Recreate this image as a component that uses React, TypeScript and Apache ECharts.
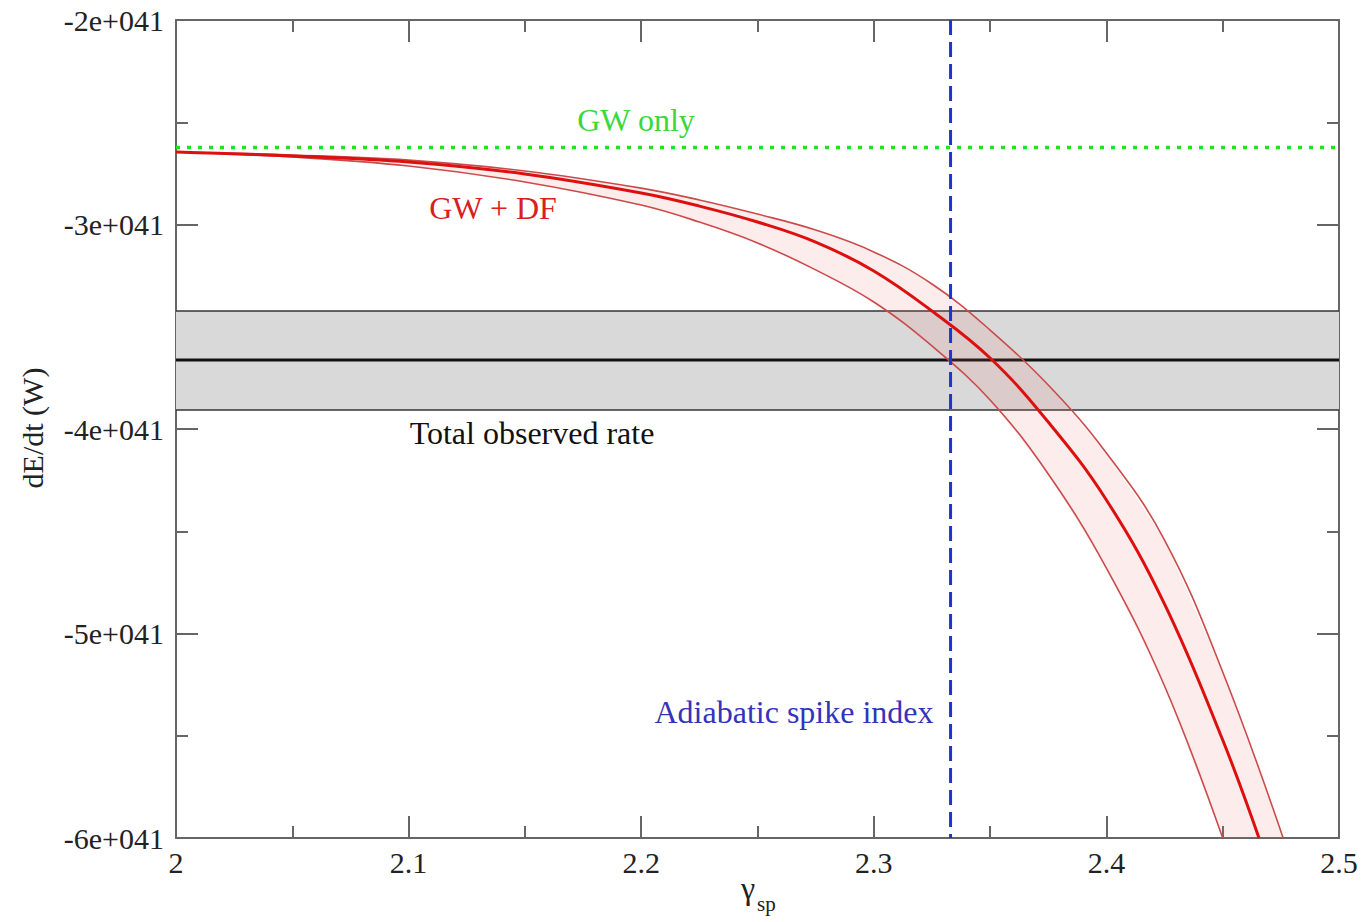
import React, { useEffect, useRef } from "react";
import * as echarts from "echarts";

// Values of dE/dt are in units of 1e41 W
const xTicksMin = 2;
const xTicksMax = 2.5;
const yMin = -6;
const yMax = -2;

const gwOnly = -2.624;
const observedRate = -3.663;
const observedHigh = -3.423;
const observedLow = -3.907;
const adiabaticIndex = 2.333;

const xCentral = [2.0, 2.05, 2.1, 2.15, 2.2, 2.225, 2.25, 2.275, 2.3, 2.325, 2.35, 2.375, 2.4, 2.425, 2.45, 2.4656];
const yCentral = [-2.6455, -2.665, -2.694, -2.753, -2.846, -2.91, -2.988, -3.086, -3.227, -3.423, -3.653, -3.966, -4.347, -4.856, -5.521, -6.0];

const xLower = [2.0, 2.05, 2.1, 2.15, 2.2, 2.225, 2.25, 2.275, 2.3, 2.325, 2.35, 2.375, 2.4, 2.425, 2.45];
const yLower = [-2.6455, -2.67, -2.714, -2.792, -2.905, -2.988, -3.09, -3.222, -3.379, -3.594, -3.858, -4.22, -4.68, -5.257, -6.0];

const xUpper = [2.0, 2.05, 2.1, 2.15, 2.2, 2.225, 2.25, 2.275, 2.3, 2.325, 2.35, 2.375, 2.4, 2.425, 2.45, 2.476];
const yUpper = [-2.6455, -2.66, -2.685, -2.738, -2.822, -2.88, -2.949, -3.027, -3.134, -3.291, -3.516, -3.785, -4.117, -4.543, -5.188, -6.0];

const zip = (xs: number[], ys: number[]) => xs.map((x, i) => [x, ys[i]]);

const SERIF = "'Liberation Serif', 'DejaVu Serif', serif";
const AXIS_COLOR = "#666";

export default function App() {
  const ref = useRef<HTMLDivElement>(null);

  useEffect(() => {
    if (!ref.current) return;
    const chart = echarts.init(ref.current, undefined, { renderer: "svg" });

    const tickStyle = { color: AXIS_COLOR, width: 2 };
    const xAxisBase = {
      type: "value",
      min: xTicksMin,
      max: xTicksMax,
      interval: 0.1,
      splitLine: { show: false },
      axisLine: { show: true, lineStyle: { color: AXIS_COLOR, width: 2 } },
      axisTick: { show: true, inside: true, length: 22, lineStyle: tickStyle },
      minorTick: { show: true, splitNumber: 2, length: 12, lineStyle: tickStyle },
    };
    const yAxisBase = {
      type: "value",
      min: yMin,
      max: yMax,
      interval: 1,
      splitLine: { show: false },
      axisLine: { show: true, lineStyle: { color: AXIS_COLOR, width: 2 } },
      axisTick: { show: true, inside: true, length: 22, lineStyle: tickStyle },
      minorTick: { show: true, splitNumber: 2, length: 12, lineStyle: tickStyle },
    };

    const annotation = (text: string, x: number, y: number, fill: string) => ({
      type: "text",
      x,
      y,
      z: 100,
      style: { text, fontFamily: SERIF, fontSize: 32, fill, align: "center", verticalAlign: "middle" },
    });

    const curve = (name: string, xs: number[], ys: number[], color: string, width: number, z: number) => ({
      name,
      type: "line",
      symbol: "none",
      smooth: 0.4,
      z,
      data: zip(xs, ys),
      lineStyle: { color, width },
    });

    const option: any = {
      animation: false,
      backgroundColor: "#fff",
      grid: { left: 176, top: 20, width: 1163, height: 818, containLabel: false },
      xAxis: [
        {
          ...xAxisBase,
          position: "bottom",
          axisLabel: {
            show: true,
            fontFamily: SERIF,
            fontSize: 30,
            color: "#222",
            margin: 9,
            formatter: (v: number) => String(parseFloat(v.toFixed(2))),
          },
        },
        { ...xAxisBase, position: "top", axisLabel: { show: false } },
      ],
      yAxis: [
        {
          ...yAxisBase,
          position: "left",
          axisLabel: {
            show: true,
            fontFamily: SERIF,
            fontSize: 30,
            color: "#222",
            margin: 12,
            formatter: (v: number) => `${v}e+041`,
          },
        },
        { ...yAxisBase, position: "right", axisLabel: { show: false } },
      ],
      graphic: [
        {
          type: "text",
          x: 32,
          y: 428,
          rotation: Math.PI / 2,
          style: { text: "dE/dt (W)", fontFamily: SERIF, fontSize: 30, fill: "#222", align: "center", verticalAlign: "middle" },
        },
        {
          type: "text",
          x: 748,
          y: 888,
          style: { text: "γ", fontFamily: SERIF, fontSize: 32, fill: "#222", align: "center", verticalAlign: "middle" },
        },
        {
          type: "text",
          x: 757,
          y: 904,
          style: { text: "sp", fontFamily: SERIF, fontSize: 21, fill: "#222", align: "left", verticalAlign: "middle" },
        },
        annotation("GW only", 636, 120, "#3ad83a"),
        annotation("GW + DF", 493, 208, "#d82020"),
        annotation("Total observed rate", 532, 433, "#111"),
        annotation("Adiabatic spike index", 794, 712, "#3333bb"),
      ],
      series: [
        {
          name: "Total observed rate",
          type: "line",
          symbol: "none",
          z: 3,
          data: [[xTicksMin, observedRate], [xTicksMax, observedRate]],
          lineStyle: { color: "#111", width: 3 },
          markArea: {
            silent: true,
            itemStyle: { color: "#d9d9d9" },
            data: [[{ yAxis: observedHigh }, { yAxis: observedLow }]],
          },
        },
        {
          name: "Observed high",
          type: "line",
          symbol: "none",
          z: 3,
          data: [[xTicksMin, observedHigh], [xTicksMax, observedHigh]],
          lineStyle: { color: "#333", width: 1.5 },
        },
        {
          name: "Observed low",
          type: "line",
          symbol: "none",
          z: 3,
          data: [[xTicksMin, observedLow], [xTicksMax, observedLow]],
          lineStyle: { color: "#333", width: 1.5 },
        },
        {
          name: "GW + DF band",
          type: "custom",
          z: 4,
          data: [[xUpper[0], yUpper[0]]],
          encode: { x: 0, y: 1 },
          renderItem: (_params: any, api: any) => {
            const pts: number[][] = [];
            for (let i = 0; i < xUpper.length; i++) pts.push(api.coord([xUpper[i], yUpper[i]]));
            for (let i = xLower.length - 1; i >= 0; i--) pts.push(api.coord([xLower[i], yLower[i]]));
            return {
              type: "polygon",
              shape: { points: pts },
              style: { fill: "rgba(240,110,110,0.13)", stroke: "none" },
            };
          },
        },
        curve("GW + DF lower", xLower, yLower, "#cc4a4a", 1.6, 5),
        curve("GW + DF upper", xUpper, yUpper, "#cc4a4a", 1.6, 5),
        curve("GW + DF", xCentral, yCentral, "#dd1010", 3, 6),
        {
          name: "GW only",
          type: "line",
          symbol: "none",
          z: 6,
          data: [[xTicksMin, gwOnly], [xTicksMax, gwOnly]],
          lineStyle: { color: "#22e022", width: 3.5, type: [4, 7] },
        },
        {
          name: "Adiabatic spike index",
          type: "line",
          symbol: "none",
          z: 7,
          data: [[adiabaticIndex, yMax], [adiabaticIndex, yMin]],
          lineStyle: { color: "#2233cc", width: 3, type: [15, 7] },
        },
      ],
    };

    chart.setOption(option);
    return () => chart.dispose();
  }, []);

  return (
    <div
      ref={ref}
      style={{ position: "fixed", left: 0, top: 0, width: 1363, height: 922, background: "#fff" }}
    />
  );
}
